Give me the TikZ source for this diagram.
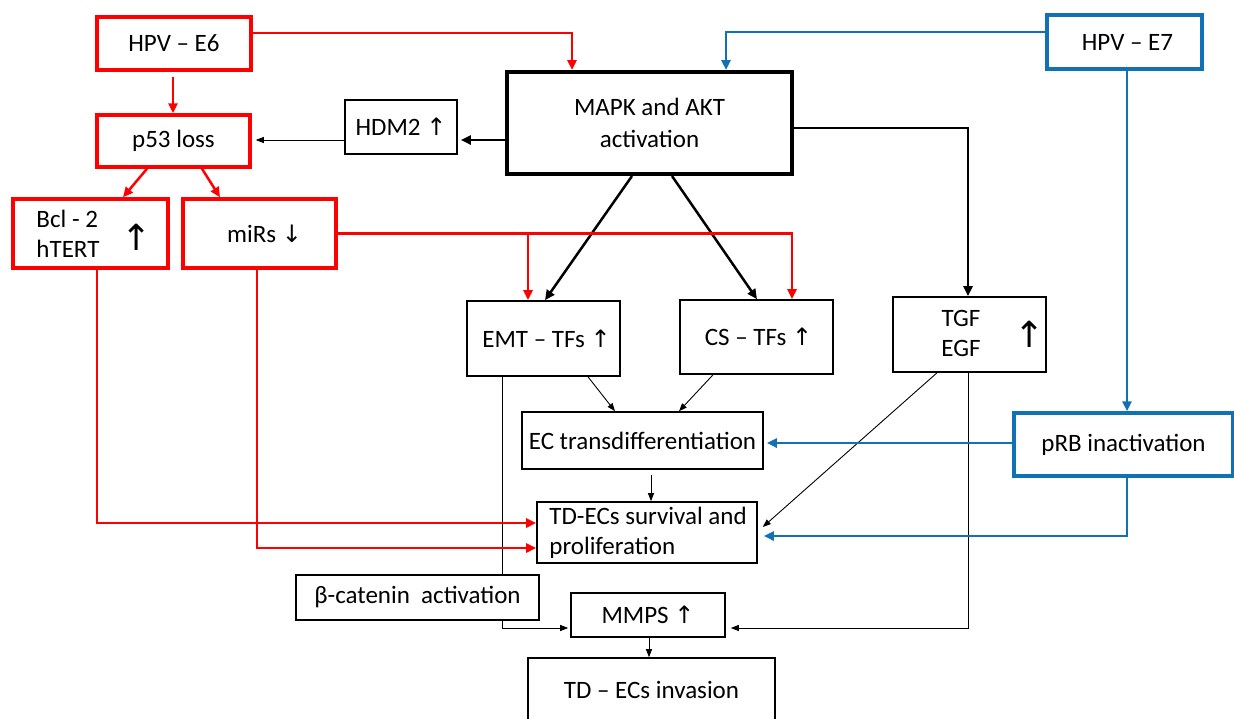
\documentclass[tikz,border=0pt]{standalone}
\usepackage{fontspec}
\setmainfont{Carlito}
\newfontfamily\arrfont{DejaVu Sans}
\usetikzlibrary{arrows.meta,backgrounds,calc}
\definecolor{myred}{RGB}{255,0,0}
\definecolor{myblue}{RGB}{16,114,180}
\newcommand{\upar}{{\arrfont\fontsize{24}{26}\selectfont ↑}}
\newcommand{\dnar}{{\arrfont\fontsize{24}{26}\selectfont ↓}}
\newcommand{\bigupar}{{\arrfont\fontsize{36}{38}\selectfont ↑}}
\begin{document}
\begin{tikzpicture}[x=1pt,y=-1pt,
  every node/.style={font=\fontsize{25}{30}\selectfont},
  box/.style={draw=black, line width=1.6pt, fill=white, inner sep=0pt, align=center},
  redbox/.style={box, draw=myred, line width=3.5pt},
  bluebox/.style={box, draw=myblue, line width=3.5pt},
  thickbox/.style={box, line width=4pt},
  txt/.style={inner sep=0pt, align=left},
  redarr/.style={draw=myred, line width=2.5pt, -{Triangle[length=10pt,width=9pt]}},
  bluearr/.style={draw=myblue, line width=2.5pt, -{Triangle[length=10pt,width=9pt]}},
  blackarr/.style={draw=black, line width=2.5pt, -{Triangle[length=10pt,width=9pt]}},
  thinarr/.style={draw=black, line width=0.9pt, -{Triangle[length=8pt,width=6pt]}}
]
\useasboundingbox (0,0) rectangle (1234,718);
\clip (0,0) rectangle (1234,718);

% nodes
\node[redbox, minimum width=154pt, minimum height=53pt] (e6) at (174,43.5) {HPV -- E6};
\node[redbox, minimum width=153pt, minimum height=52pt] (p53) at (173.5,141) {p53 loss};
\node[box, minimum width=112pt, minimum height=54pt] (hdm2) at (401,127) {HDM2 \upar};
\node[redbox, minimum width=155pt, minimum height=69pt] (bcl) at (90.5,233.5) {};
\node[txt, anchor=west] (bcltxt) at ([xshift=25pt]bcl.west) {Bcl - 2\\hTERT};
\node[txt] (bclar) at (137,237) {\bigupar};
\node[redbox, minimum width=153pt, minimum height=69pt] (mirs) at (259.5,233.5) {\hspace*{10pt}miRs \dnar};
\node[thickbox, minimum width=285pt, minimum height=102pt, font=\fontsize{25}{32}\selectfont] (mapk) at (649.5,123) {MAPK and AKT\\activation};
\node[bluebox, minimum width=155pt, minimum height=54pt] (e7) at (1124.5,42) {\hspace*{6pt}HPV -- E7};
\node[box, minimum width=153pt, minimum height=75pt] (emt) at (543.5,338.5) {\hspace*{6pt}EMT -- TFs \upar};
\node[box, minimum width=153pt, minimum height=74pt] (cs) at (756.5,337) {\hspace*{4pt}CS -- TFs \upar};
\node[box, minimum width=153pt, minimum height=75pt] (tgf) at (969.5,334.5) {};
\node[txt, align=center] (tgftxt) at (961,333) {TGF\\EGF};
\node[txt] (tgfar) at (1030,334) {\bigupar};
\node[box, minimum width=241pt, minimum height=57pt] (ec) at (642.5,440.5) {EC transdifferentiation};
\node[box, minimum width=220pt, minimum height=61pt] (surv) at (647,532.5) {};
\node[txt, anchor=west] (survtxt) at ([xshift=13pt]surv.west) {TD-ECs survival and\\proliferation};
\node[bluebox, minimum width=219pt, minimum height=63pt] (prb) at (1123.5,444.5) {pRB inactivation};
\node[box, minimum width=243pt, minimum height=45pt] (beta) at (417.5,597.5) {β-catenin\ \ activation};
\node[box, minimum width=154pt, minimum height=44pt] (mmps) at (648,615) {MMPS \upar};
\node[box, minimum width=247pt, minimum height=64pt] (inv) at (651.5,690) {TD -- ECs invasion};

% connectors
\begin{scope}[on background layer]
\fill[white] (0,0) rectangle (1234,718);
\draw[redarr] ([yshift=10.5pt]e6.east) -| ([xshift=-77.5pt]mapk.north);
\draw[bluearr] ([yshift=10pt]e7.west) -| ([xshift=76.5pt]mapk.north);
\draw[redarr] ([xshift=-1pt,yshift=-5pt]e6.south) -- ([xshift=-0.5pt]p53.north);
\draw[redarr] ([xshift=-26.5pt]p53.south) -- ([xshift=32.5pt]bcl.north);
\draw[redarr] ([xshift=28.5pt]p53.south) -- ([xshift=-39.5pt]mirs.north);
\draw[blackarr] ([yshift=-17pt]mapk.west) -- ([yshift=-17pt,xshift=3pt]mapk.west -| hdm2.east);
\draw[thinarr] ([yshift=-13pt]hdm2.west) -- ([yshift=-13pt,xshift=4pt]hdm2.west -| p53.east);
\draw[blackarr] ([yshift=-5pt]mapk.east) -| ([xshift=-1.5pt]tgf.north);
\draw[blackarr] ([xshift=-17.5pt]mapk.south) -- ([xshift=1.5pt]emt.north);
\draw[blackarr] ([xshift=22.5pt]mapk.south) -- ([xshift=0.5pt]cs.north);
\draw[redarr] (mirs.east) -| ([xshift=-15.5pt]emt.north);
\draw[redarr] (mirs.east) -| ([xshift=35.5pt]cs.north);
\draw[thinarr] ([xshift=44.5pt]emt.south) -- ([xshift=-27.5pt]ec.north);
\draw[thinarr] ([xshift=-43.5pt]cs.south) -- ([xshift=36.5pt]ec.north);
\draw[thinarr] ([xshift=8.5pt,yshift=-5pt]ec.south) -- ([xshift=8.5pt]ec.south |- surv.north);
\draw[thinarr] ([xshift=-32.5pt]tgf.south) -- ([xshift=5pt,yshift=5.5pt]surv.east);
\draw[thinarr, shorten >=5pt] ([xshift=-1.5pt]tgf.south) |- ([yshift=-13pt]mmps.east);
\draw[thinarr, shorten >=2pt] ([xshift=-41.5pt]emt.south) |- ([yshift=-13pt]mmps.west);
\draw[redarr] ([xshift=6.5pt]bcl.south) |- ([yshift=9.5pt]surv.west);
\draw[redarr] ([xshift=-2.5pt]mirs.south) |- ([yshift=-15.5pt]surv.west);
\draw[bluearr, shorten >=3pt] ([yshift=1.5pt]prb.west) -- ([yshift=1.5pt]prb.west -| ec.east);
\draw[bluearr, shorten >=6pt] ([xshift=3.5pt]prb.south) |- ([yshift=-3.5pt]surv.east);
\draw[bluearr] ([xshift=2.5pt]e7.south) -- ([xshift=2.5pt]e7.south |- prb.north);
\draw[thinarr] ([xshift=1pt]mmps.south) -- ([xshift=1pt]mmps.south |- inv.north);
\end{scope}
\end{tikzpicture}
\end{document}
